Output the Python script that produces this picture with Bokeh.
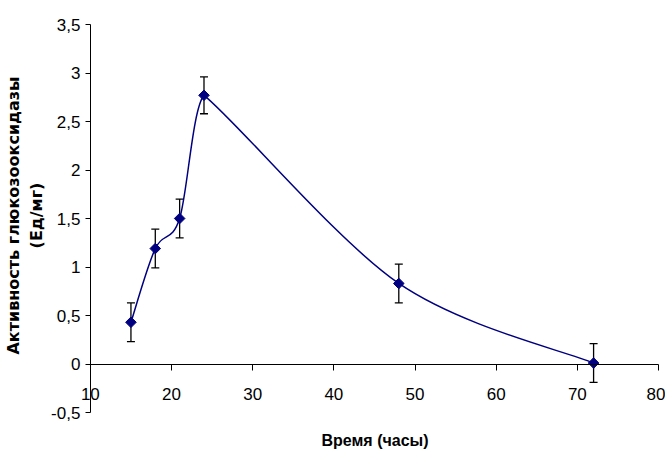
import numpy as np
from bokeh.plotting import figure
from bokeh.models import (LinearAxis, FixedTicker, Whisker, ColumnDataSource,
                          CustomJSTickFormatter, Title)
from bokeh.embed import file_html
from bokeh.resources import INLINE

# ---- data ----
hours = [15, 18, 21, 24, 48, 72]
activity = [0.43, 1.19, 1.50, 2.77, 0.83, 0.01]
error = [0.20, 0.20, 0.20, 0.19, 0.20, 0.20]
x_ticks = [10, 20, 30, 40, 50, 60, 70, 80]
y_ticks = [-0.5, 0, 0.5, 1, 1.5, 2, 2.5, 3, 3.5]
x_title = "Время (часы)"
y_title = "Активность глюкозооксидазы\n(Ед/мг)"

NAVY = "#000080"
NARROW = "'Liberation Sans Narrow', 'Liberation Sans', sans-serif"

# ---- layout geometry (pixels) ----
W, H = 665, 459
FRAME_LEFT = 45            # left panel holds the rotated axis title
FRAME_BOTTOM = 430         # bottom panel holds the x axis title
AX_X0_PX, AX_X1_PX = 88, 658   # where x = 10 and x = 80 fall
AX_Y1_PX, AX_Y0_PX = 24, 412   # where y = 3.5 and y = -0.5 fall
XTITLE_LEFT_PX = 319           # left edge of the x axis title
X_LO, X_HI = x_ticks[0], x_ticks[-1]
Y_LO, Y_HI = y_ticks[0], y_ticks[-1]
sx = (AX_X1_PX - AX_X0_PX) / (X_HI - X_LO)   # px per hour
sy = (AX_Y0_PX - AX_Y1_PX) / (Y_HI - Y_LO)   # px per unit
x_start = X_LO - (AX_X0_PX - FRAME_LEFT) / sx
x_end = X_HI + (W - AX_X1_PX) / sx
y_start = Y_LO - (FRAME_BOTTOM - AX_Y0_PX) / sy
y_end = Y_HI + AX_Y1_PX / sy

xs = np.array(hours, dtype=float)
ys = np.array(activity, dtype=float)
err = np.array(error, dtype=float)

src = ColumnDataSource(dict(x=xs, y=ys, upper=ys + err, lower=ys - err))

p = figure(width=W, height=H, x_range=(x_start, x_end), y_range=(y_start, y_end),
           x_axis_type=None, y_axis_type=None,
           output_backend="svg", toolbar_location=None,
           min_border_left=FRAME_LEFT, min_border_right=0,
           min_border_top=0, min_border_bottom=H - FRAME_BOTTOM)
p.outline_line_color = None
p.background_fill_color = "white"
p.border_fill_color = "white"

fmt = CustomJSTickFormatter(code="return String(tick).replace('.', ',');")

# visible y axis (drawn at x = 10)
yaxis = LinearAxis(ticker=FixedTicker(ticks=y_ticks), formatter=fmt, fixed_location=X_LO,
                   bounds=(Y_LO, Y_HI),
                   major_tick_out=5, major_tick_in=0, minor_tick_out=0, minor_tick_in=0,
                   major_label_standoff=5,
                   axis_line_color="black", major_tick_line_color="black",
                   major_label_text_font=NARROW, major_label_text_font_size="17px",
                   major_label_text_color="black")
p.add_layout(yaxis, "left")

# y axis title only (in the left panel)
ytitle = LinearAxis(ticker=FixedTicker(ticks=[]), axis_label=y_title,
                    axis_line_color=None, major_tick_out=0, major_tick_in=0,
                    minor_tick_out=0, minor_tick_in=0, major_label_standoff=0,
                    axis_label_standoff=2,
                    axis_label_text_font="DejaVu Sans", axis_label_text_font_size="16px",
                    axis_label_text_font_style="bold", axis_label_text_color="black")
p.add_layout(ytitle, "left")

# x axis (drawn at y = 0)
xaxis = LinearAxis(ticker=FixedTicker(ticks=x_ticks), formatter=fmt, fixed_location=0,
                   bounds=(X_LO, X_HI),
                   major_tick_out=6, major_tick_in=0, minor_tick_out=0, minor_tick_in=0,
                   major_label_standoff=18,
                   axis_line_color="black", major_tick_line_color="black",
                   major_label_text_font=NARROW, major_label_text_font_size="17px",
                   major_label_text_color="black")
p.add_layout(xaxis, "below")

# x axis title (bottom panel), placed under the middle of the axis span
p.add_layout(Title(text=x_title, align="left", offset=XTITLE_LEFT_PX - FRAME_LEFT,
                   vertical_align="middle", standoff=0,
                   text_font=NARROW, text_font_size="16px", text_font_style="bold",
                   text_color="black"), "below")

# smoothed connecting line: Bezier through the data points. Tangents from the
# neighbours, blended toward each segment's own chord at sharp turns (screen space).
n = len(xs)
prev_i = np.r_[0, np.arange(n - 1)]
next_i = np.r_[np.arange(1, n), n - 1]
tx = (xs[next_i] - xs[prev_i]) / 6.0
ty = (ys[next_i] - ys[prev_i]) / 6.0
px, py = xs * sx, ys * sy
din = np.stack([px - px[prev_i], py - py[prev_i]], axis=1)
dout = np.stack([px[next_i] - px, py[next_i] - py], axis=1)
nin = np.linalg.norm(din, axis=1)
nout = np.linalg.norm(dout, axis=1)
cosang = np.ones(n)
ok = (nin > 0) & (nout > 0)
cosang[ok] = (din[ok] * dout[ok]).sum(axis=1) / (nin[ok] * nout[ok])
k = (1 + cosang) / 2
out_x = k * tx + (1 - k) * (xs[next_i] - xs) / 6.0
out_y = k * ty + (1 - k) * (ys[next_i] - ys) / 6.0
in_x = k * tx + (1 - k) * (xs - xs[prev_i]) / 6.0
in_y = k * ty + (1 - k) * (ys - ys[prev_i]) / 6.0
p.bezier(x0=xs[:-1], y0=ys[:-1], x1=xs[1:], y1=ys[1:],
         cx0=xs[:-1] + out_x[:-1], cy0=ys[:-1] + out_y[:-1],
         cx1=xs[1:] - in_x[1:], cy1=ys[1:] - in_y[1:],
         line_color=NAVY, line_width=1.5)

w = Whisker(source=src, base="x", upper="upper", lower="lower", dimension="height",
            line_color="black", line_width=1.3)
for head in (w.upper_head, w.lower_head):
    head.size = 8
    head.line_color = "black"
    head.line_width = 1.3
p.add_layout(w)

p.scatter("x", "y", source=src, marker="square", angle=np.pi / 4, size=7.5,
          fill_color=NAVY, line_color=NAVY)

open("out.html", "w").write(file_html(p, INLINE))
